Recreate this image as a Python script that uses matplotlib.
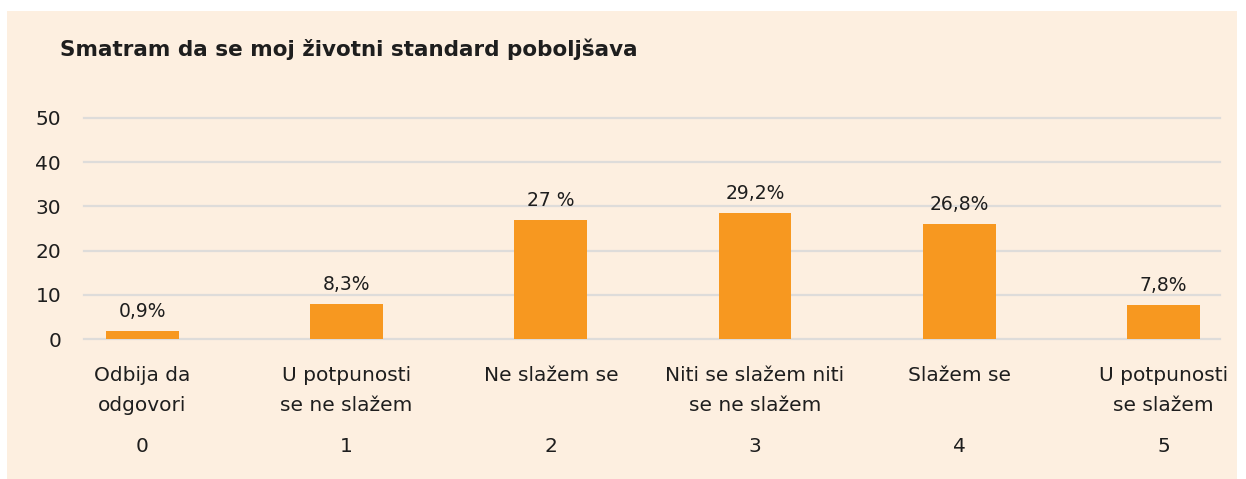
import matplotlib
matplotlib.use("Agg")
import matplotlib.pyplot as plt
from matplotlib.patches import Rectangle
from matplotlib.transforms import blended_transform_factory

categories = ["Odbija da\nodgovori", "U potpunosti\nse ne slažem", "Ne slažem se",
              "Niti se slažem niti\nse ne slažem", "Slažem se", "U potpunosti\nse slažem"]
scale_labels = ["0", "1", "2", "3", "4", "5"]
values = [1.9, 8.0, 26.9, 28.5, 26.0, 7.7]
value_labels = ["0,9%", "8,3%", "27 %", "29,2%", "26,8%", "7,8%"]
yticks = [0, 10, 20, 30, 40, 50]
title = "Smatram da se moj životni standard poboljšava"

W, H = 1246, 479
BG = "#FDEFE0"
BAR = "#F79820"
GRID = "#DEDCDA"
TXT = "#1e1e1e"

plt.rcParams['font.family'] = ['DejaVu Sans']
fig = plt.figure(figsize=(W / 100, H / 100), dpi=100, facecolor="white")
fig.patches.append(Rectangle((7 / W, 0 / H), (1237 - 7) / W, (479 - 11) / H,
                             transform=fig.transFigure, facecolor=BG, edgecolor="none", zorder=-10))

ax = fig.add_axes([84 / W, (H - 339.3) / H, (1220 - 84) / W, (339.3 - 117.7) / H])
ax.set_facecolor("none")
x = list(range(len(values)))
ax.bar(x, values, width=0.357, color=BAR, zorder=3)
ax.set_xlim(-0.286, 5.277)
ax.set_ylim(0, 50)
for s in ax.spines.values():
    s.set_visible(False)
ax.set_yticks(yticks)
ax.set_yticklabels([str(t) for t in yticks], fontsize=14.5, color=TXT)
ax.tick_params(axis="y", length=0, pad=16.5)
ax.set_xticks([])
for t in yticks:
    ax.axhline(t, color=GRID, lw=1.6, zorder=1, clip_on=False)

for xi, v, lab in zip(x, values, value_labels):
    ax.annotate(lab, (xi, v), xytext=(0, 7), textcoords="offset points",
                ha="center", va="bottom", fontsize=13.5, color=TXT)

tr = blended_transform_factory(ax.transData, fig.transFigure)
for xi, c, s in zip(x, categories, scale_labels):
    ax.text(xi, (H - 366) / H, c, transform=tr, ha="center", va="top",
            fontsize=14.5, color=TXT, linespacing=1.75, multialignment="center")
    ax.text(xi, (H - 447) / H, s, transform=tr, ha="center", va="center",
            fontsize=14.5, color=TXT)

fig.text(60 / W, (H - 49) / H, title, ha="left", va="center",
         fontsize=15.5, fontweight="bold", color=TXT)

fig.savefig("out.png", dpi=100, facecolor="white")
